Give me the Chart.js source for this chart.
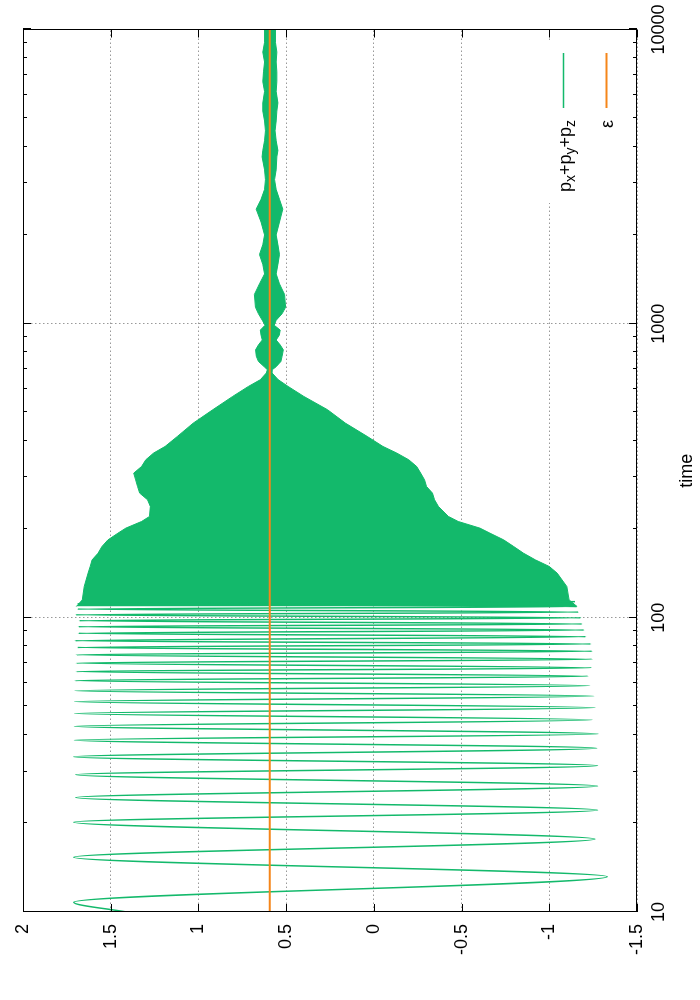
<!DOCTYPE html>
<html>
<head>
<meta charset="utf-8">
<script src="https://cdn.jsdelivr.net/npm/chart.js@4/dist/chart.umd.min.js"></script>
<style>
  html, body { margin: 0; padding: 0; background: #fff; overflow: hidden; }
  /* the plot is laid out lying down (1000x700) and turned a quarter turn */
  #wrap { position: absolute; left: 0; top: 0; width: 1000px; height: 700px;
          transform-origin: 0 0; transform: translate(0, 1000px) rotate(-90deg); }
</style>
</head>
<body>
<div id="wrap"><canvas id="c" width="1000" height="700"></canvas></div>
<script>
// ── DATA ──────────────────────────────────────────────────────────────────────
// early part: turning points of p_x+p_y+p_z (t = 10 .. 113)
const oscT = [10, 10.79, 13.19, 15.35, 17.7, 20.2, 22.2, 24.5, 26.8, 29.3, 31.45,
  33.7, 36.05, 38.4, 40.3, 42.8, 45.0, 47.3, 49.5, 51.9, 54.2, 56.5, 58.8, 61.2,
  63.3, 65.7, 67.6, 70.2, 72.3, 74.9, 77.0, 79.3, 81.5, 83.6, 86.3, 88.6, 90.9,
  93.3, 95.3, 97.8, 100, 102.4, 104.6, 107.1, 109.2, 111.6, 113.5];
const oscV = [1.41, 1.71, -1.33, 1.71, -1.26, 1.71, -1.275, 1.70, -1.275, 1.70, -1.275,
  1.71, -1.27, 1.707, -1.278, 1.707, -1.244, 1.707, -1.26, 1.707, -1.253, 1.703, -1.23, 1.703,
  -1.22, 1.696, -1.24, 1.696, -1.244, 1.696, -1.244, 1.69, -1.237, 1.703, -1.208, 1.685, -1.198,
  1.685, -1.187, 1.68, -1.18, 1.70, -1.167, 1.69, -1.158, 1.685, -1.147];

// dense part: upper / lower envelope of the fast oscillation
const bandT = [109.3, 115.1, 127.8, 141.9, 149.5, 157.4, 165.9, 174.8, 184.1, 194.0,
  201.8, 212.6, 221.1, 239.1, 252.0, 265.5, 279.7, 294.5, 310.4, 327.0,
  344.6, 363.1, 382.5, 413.8, 459, 509.9, 565.8, 612, 645, 679.6,
  697.5, 714, 744, 775, 815, 847, 880, 914, 951, 988,
  1027, 1081, 1137, 1257, 1366, 1476, 1590, 1718, 1855, 2003,
  2216, 2451, 2647, 2860, 3088, 3335, 3690, 3880, 4190, 4525,
  4887, 5278, 5630, 6158, 6650, 7181, 7755, 8375, 9045, 10000];
const bandHi = [1.696, 1.662, 1.651, 1.629, 1.617, 1.606, 1.572, 1.55, 1.516, 1.459,
  1.414, 1.324, 1.279, 1.274, 1.29, 1.335, 1.347, 1.358, 1.369, 1.324,
  1.30, 1.256, 1.19, 1.12, 1.03, 0.918, 0.805, 0.715, 0.647, 0.613,
  0.607, 0.625, 0.658, 0.670, 0.674, 0.658, 0.636, 0.643, 0.647, 0.620,
  0.636, 0.658, 0.675, 0.681, 0.652, 0.623, 0.633, 0.652, 0.633, 0.623,
  0.643, 0.671, 0.643, 0.623, 0.618, 0.623, 0.637, 0.633, 0.623, 0.618,
  0.623, 0.633, 0.633, 0.623, 0.633, 0.629, 0.623, 0.633, 0.623, 0.623];
const bandLo = [-1.158, -1.113, -1.10, -1.045, -1.0, -0.921, -0.853, -0.797, -0.74, -0.662,
  -0.605, -0.481, -0.425, -0.368, -0.346, -0.334, -0.30, -0.289, -0.267, -0.244,
  -0.199, -0.131, -0.052, 0.038, 0.162, 0.264, 0.399, 0.489, 0.545, 0.58,
  0.579, 0.557, 0.530, 0.523, 0.516, 0.534, 0.557, 0.539, 0.534, 0.568,
  0.557, 0.523, 0.503, 0.509, 0.538, 0.557, 0.547, 0.538, 0.547, 0.557,
  0.538, 0.519, 0.538, 0.557, 0.566, 0.557, 0.553, 0.547, 0.557, 0.563,
  0.557, 0.553, 0.547, 0.557, 0.553, 0.553, 0.557, 0.553, 0.561, 0.561];

const epsT = [10, 10000];
const epsV = [0.593, 0.593];

const timeMajor = [10, 100, 1000, 10000];
const timeMinor = [20, 30, 40, 50, 60, 70, 80, 90, 200, 300, 400, 500, 600, 700, 800, 900,
  2000, 3000, 4000, 5000, 6000, 7000, 8000, 9000];
const valTicks = [-1.5, -1, -0.5, 0, 0.5, 1, 1.5, 2];

const GREEN = '#13b96b';
const ORANGE = '#f5861a';
const FAMILY = "'Liberation Sans', Arial, sans-serif";
const FONT = { family: FAMILY, size: 18 };

const pts = (xs, ys) => xs.map((x, i) => ({ x, y: ys[i] }));

// ── FRAME, INWARD TICKS, TIME LABELS, KEY ─────────────────────────────────────
const framePlugin = {
  id: 'frame',
  afterDatasetsDraw(chart) {
    const { ctx, chartArea: a, scales: { x, y } } = chart;
    ctx.save();

    // opaque key box (hides the grid behind it)
    ctx.fillStyle = '#fff';
    ctx.fillRect(797, 540, 163, 88);

    ctx.strokeStyle = '#000';
    ctx.lineWidth = 1;
    const seg = (x0, y0, x1, y1) => { ctx.beginPath(); ctx.moveTo(x0, y0); ctx.lineTo(x1, y1); ctx.stroke(); };
    timeMajor.forEach(t => {
      const px = Math.round(x.getPixelForValue(t)) + 0.5;
      seg(px, a.bottom, px, a.bottom - 8); seg(px, a.top, px, a.top + 8);
    });
    timeMinor.forEach(t => {
      const px = Math.round(x.getPixelForValue(t)) + 0.5;
      seg(px, a.bottom, px, a.bottom - 4); seg(px, a.top, px, a.top + 4);
    });
    valTicks.forEach(v => {
      const py = Math.round(y.getPixelForValue(v)) + 0.5;
      seg(a.left, py, a.left + 8, py); seg(a.right, py, a.right - 8, py);
    });
    ctx.strokeRect(Math.round(a.left) + 0.5, Math.round(a.top) + 0.5,
      Math.round(a.width) - 1, Math.round(a.height) - 1);

    // time tick labels, centred under their ticks
    ctx.fillStyle = '#000';
    ctx.font = `18px ${FAMILY}`;
    ctx.textAlign = 'center';
    ctx.textBaseline = 'alphabetic';
    timeMajor.forEach(t => ctx.fillText(String(t), x.getPixelForValue(t), a.bottom + 27));

    // key: right-aligned label, then a line sample
    const rows = [
      { color: GREEN, width: 1.5, base: 571, mid: 563.5 },
      { color: ORANGE, width: 2, base: 613, mid: 606.5 }
    ];
    rows.forEach(r => {
      ctx.strokeStyle = r.color;
      ctx.lineWidth = r.width;
      seg(892, r.mid, 947, r.mid);
    });
    // p_x+p_y+p_z with subscripts, ending at x = 880
    const parts = [['p', 0], ['x', 1], ['+p', 0], ['y', 1], ['+p', 0], ['z', 1]];
    const big = `18px ${FAMILY}`, small = `14px ${FAMILY}`;
    let w = 0;
    parts.forEach(([s, sub]) => { ctx.font = sub ? small : big; w += ctx.measureText(s).width; });
    let cx = 880 - w;
    ctx.textAlign = 'left';
    parts.forEach(([s, sub]) => {
      ctx.font = sub ? small : big;
      ctx.fillText(s, cx, rows[0].base + (sub ? 4 : 0));
      cx += ctx.measureText(s).width;
    });
    ctx.font = big;
    ctx.textAlign = 'right';
    ctx.fillText(chart.data.datasets[3].label, 880, rows[1].base);
    ctx.restore();
  }
};

new Chart(document.getElementById('c'), {
  type: 'line',
  data: {
    datasets: [
      { label: 'p_x+p_y+p_z', data: pts(oscT, oscV), borderColor: GREEN, borderWidth: 1.5,
        pointRadius: 0, cubicInterpolationMode: 'monotone', fill: false, order: 2 },
      { label: 'hi', data: pts(bandT, bandHi), borderColor: GREEN, backgroundColor: GREEN,
        borderWidth: 1, pointRadius: 0, tension: 0, fill: '+1', order: 3 },
      { label: 'lo', data: pts(bandT, bandLo), borderColor: GREEN, borderWidth: 1,
        pointRadius: 0, tension: 0, fill: false, order: 3 },
      { label: 'ε', data: pts(epsT, epsV), borderColor: ORANGE, borderWidth: 2,
        pointRadius: 0, fill: false, order: 0 }
    ]
  },
  options: {
    responsive: false,
    animation: false,
    events: [],
    layout: { padding: { top: 23, right: 29.5, left: 0, bottom: 0 } },
    plugins: { legend: { display: false }, tooltip: { enabled: false } },
    scales: {
      x: {
        type: 'logarithmic', position: 'bottom', min: 10, max: 10000,
        afterBuildTicks: s => { s.ticks = timeMajor.map(v => ({ value: v })); },
        afterFit: s => { s.height = 63; },
        ticks: { display: false },
        grid: { color: '#999', lineWidth: 1, drawTicks: false },
        border: { display: false, dash: [1.5, 2.5] },
        title: { display: true, text: 'time', font: FONT, color: '#000', padding: { top: 0, bottom: 2 } }
      },
      y: {
        min: -1.5, max: 2,
        afterBuildTicks: s => { s.ticks = valTicks.map(v => ({ value: v })); },
        afterFit: s => { s.width = 88; },
        ticks: { callback: v => String(v), font: FONT, color: '#000', padding: 12 },
        grid: { color: '#999', lineWidth: 1, drawTicks: false },
        border: { display: false, dash: [1.5, 2.5] }
      }
    }
  },
  plugins: [framePlugin]
});
</script>
</body>
</html>
